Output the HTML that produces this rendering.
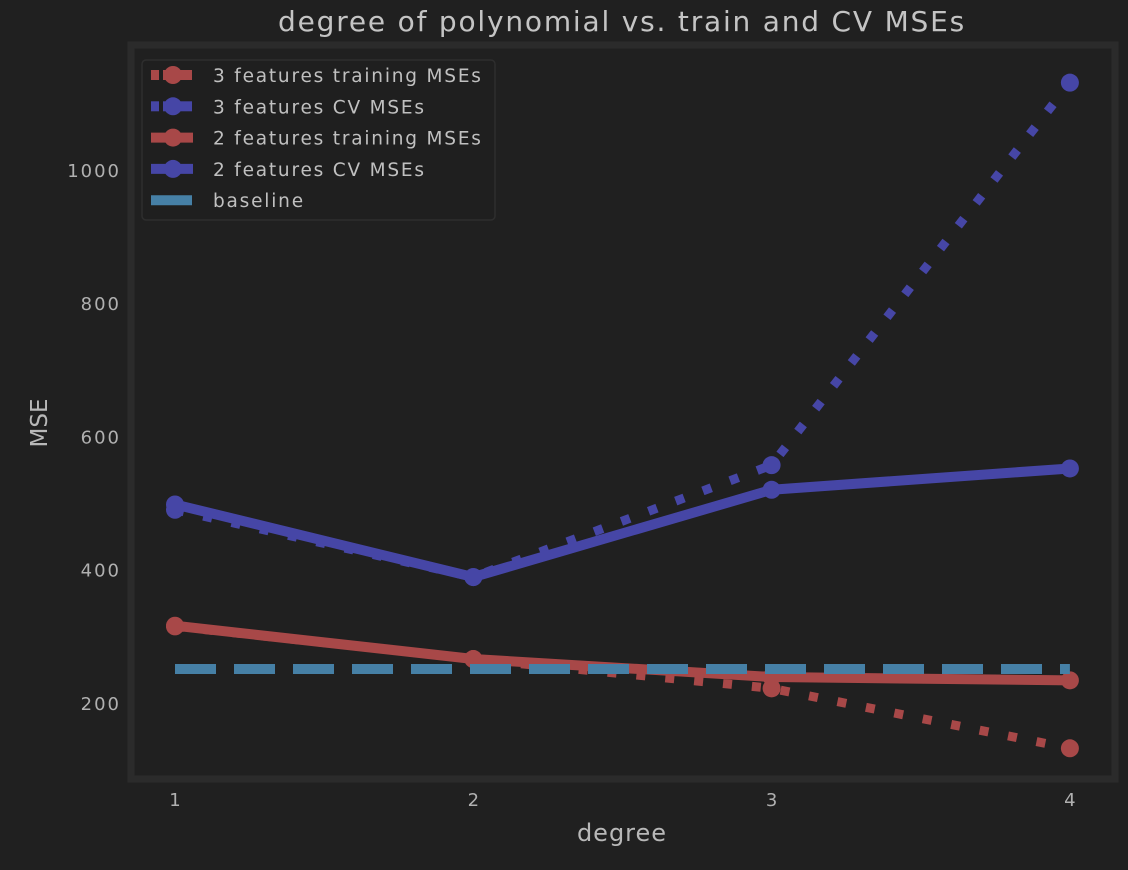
<!DOCTYPE html>
<html><head><meta charset="utf-8"><style>
html,body{margin:0;padding:0;background:#202020;}
svg{display:block;font-family:"DejaVu Sans","Liberation Sans",sans-serif;}
</style></head><body>
<svg id="chart" width="1128" height="870">
<rect x="0" y="0" width="1128" height="870" fill="#202020"/>
<rect x="131" y="45" width="984" height="734" fill="#202020" stroke="#2b2b2b" stroke-width="7"/>
<text x="622" y="31" font-size="28" letter-spacing="1.8" fill="#c4c4c4" text-anchor="middle">degree of polynomial vs. train and CV MSEs</text>
<text x="622" y="841" font-size="24" letter-spacing="1" fill="#b8b8b8" text-anchor="middle">degree</text>
<text transform="translate(47,423) rotate(-90)" font-size="23" fill="#b8b8b8" text-anchor="middle">MSE</text>
<g id="xticks"></g>
<g id="yticks"></g>
<g id="series"></g>
<g id="legend">
<rect x="142" y="60" width="353" height="160" rx="4" fill="#1f1f1f" stroke="#2e2e2e" stroke-width="1.5"/>
</g>
</svg>
<script>
const degrees=[1,2,3,4];
const train3=[315,266,222,132];
const cv3=[490,389,557,1131];
const train2=[316,266,239,234];
const cv2=[498,389,520,552];
const baseline=[251,251,251,251];
const xTickLabels=["1","2","3","4"];
const yTickValues=[200,400,600,800,1000];
const NS="http://www.w3.org/2000/svg";
function xs(d){return 175+(d-1)*298.3;}
function ys(v){return 703-(v-200)*0.6663;}
function mk(tag,attrs,parent){const e=document.createElementNS(NS,tag);for(const k in attrs)e.setAttribute(k,attrs[k]);parent.appendChild(e);return e;}
const xt=document.getElementById('xticks'),yt=document.getElementById('yticks'),sg=document.getElementById('series'),lg=document.getElementById('legend');
degrees.forEach((d,i)=>{const t=mk('text',{x:xs(d),y:806,'font-size':18,fill:'#b0b0b0','text-anchor':'middle'},xt);t.textContent=xTickLabels[i];

});
yTickValues.forEach(v=>{const t=mk('text',{x:121,y:ys(v)+7,'font-size':18,'letter-spacing':2,fill:'#b0b0b0','text-anchor':'end'},yt);t.textContent=String(v);

});
const RED='#a84848',BLUE='#4646a6',BL='#4680a6';
function series(vals,color,dash,w,name,markers){
const pts=vals.map((v,i)=>xs(degrees[i])+','+ys(v)).join(' ');
const attrs={points:pts,fill:'none',stroke:color,'stroke-width':w,'stroke-linejoin':'round'};
if(dash)attrs['stroke-dasharray']=dash;
const pl=mk('polyline',attrs,sg);


if(markers)vals.forEach((v,i)=>{const c=mk('circle',{cx:xs(degrees[i]),cy:ys(v),r:9,fill:color},sg);

});
}
series(train3,RED,'9 20',9,'train-3-features',true);
series(cv3,BLUE,'9 20',9,'cv-3-features',true);
series(train2,RED,null,10,'train-2-features',true);
series(cv2,BLUE,null,10,'cv-2-features',true);
series(baseline,BL,'41 18',10,'baseline',false);
const entries=[["3 features training MSEs",RED,'6 4'],["3 features CV MSEs",BLUE,'6 4'],["2 features training MSEs",RED,null],["2 features CV MSEs",BLUE,null],["baseline",BL,'bl']];
entries.forEach((e,i)=>{const y=75+i*31.3;
const g=mk('g',{},lg);


if(e[2]==='bl'){mk('line',{x1:151,y1:y,x2:192,y2:y,stroke:e[1],'stroke-width':10},g);}
else{if(e[2]){mk('rect',{x:151,y:y-5,width:8,height:10,fill:e[1]},g);mk('rect',{x:163,y:y-5,width:29,height:10,fill:e[1]},g);}
else mk('line',{x1:151,y1:y,x2:193,y2:y,stroke:e[1],'stroke-width':10},g);
mk('circle',{cx:173,cy:y,r:9,fill:e[1]},g);}
const t=mk('text',{x:213,y:y+7,'font-size':18.5,'letter-spacing':1.8,fill:'#c0c0c0'},g);t.textContent=e[0];});
</script>
</body></html>
